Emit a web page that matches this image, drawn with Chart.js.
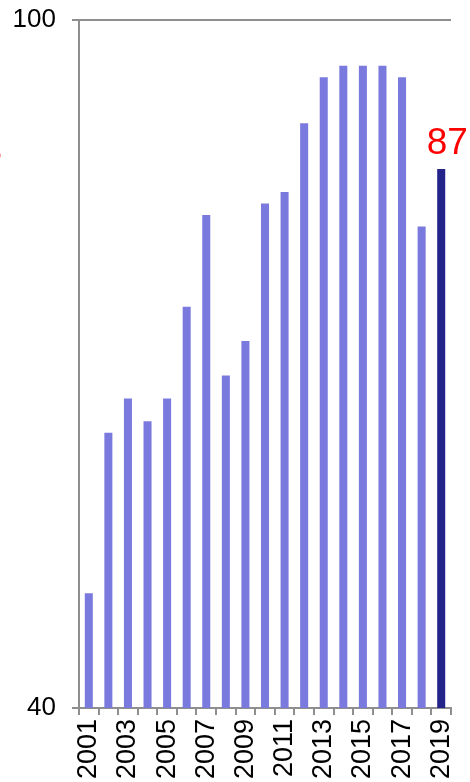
<!DOCTYPE html>
<html>
<head>
<meta charset="utf-8">
<script src="https://cdn.jsdelivr.net/npm/chart.js@4/dist/chart.umd.min.js"></script>
<style>
  html, body { margin: 0; padding: 0; background: #ffffff; }
  #wrap { position: relative; width: 470px; height: 782px; }
</style>
</head>
<body>
<div id="wrap"><canvas id="chart" width="470" height="782"></canvas></div>
<script>
// Yearly index values, 2001-2019
const years = ['2001','2002','2003','2004','2005','2006','2007','2008','2009','2010',
               '2011','2012','2013','2014','2015','2016','2017','2018','2019'];
const values = [50, 64, 67, 65, 67, 75, 83, 69, 72, 84,
                85, 91, 95, 96, 96, 96, 95, 82, 87];
const yTicks = [40, 100];

const FONT = '"Liberation Sans", Arial, sans-serif';
const AXIS_GRAY = '#8e8e8e';
const BAR_LIGHT = '#7a7ade';
const BAR_LATEST = '#23238a';

const barColors = values.map((v, i) => i === values.length - 1 ? BAR_LATEST : BAR_LIGHT);

// Writes the latest year's value above its bar, plus the clipped red note at the left edge
const latestLabel = {
  id: 'latestLabel',
  afterDatasetsDraw(chart) {
    const ctx = chart.ctx;
    const meta = chart.getDatasetMeta(0);
    const last = meta.data[meta.data.length - 1];
    const v = values[values.length - 1];
    ctx.save();
    ctx.fillStyle = '#ff0000';
    ctx.font = '37px ' + FONT;
    ctx.textAlign = 'center';
    ctx.textBaseline = 'alphabetic';
    ctx.fillText(String(v), last.x + 6, last.y - 15);
    ctx.textAlign = 'right';
    ctx.fillText('8', 2, 163);
    ctx.restore();
  }
};

new Chart(document.getElementById('chart'), {
  type: 'bar',
  data: {
    labels: years,
    datasets: [{
      data: values,
      backgroundColor: barColors,
      borderWidth: 0,
      barPercentage: 0.41,
      categoryPercentage: 1.0
    }]
  },
  options: {
    responsive: false,
    animation: false,
    devicePixelRatio: 1,
    layout: { padding: { top: 20, right: 19, left: 0, bottom: 0 } },
    plugins: {
      legend: { display: false },
      tooltip: { enabled: false }
    },
    scales: {
      x: {
        grid: {
          offset: true,
          drawOnChartArea: false,
          drawTicks: true,
          tickLength: 7,
          color: AXIS_GRAY,
          lineWidth: 2
        },
        border: { display: true, color: AXIS_GRAY, width: 2 },
        ticks: {
          autoSkip: false,
          minRotation: 90,
          maxRotation: 90,
          padding: 4,
          color: '#000000',
          font: { family: FONT, size: 27 },
          callback: (val, idx) => idx % 2 === 0 ? years[idx] : ''
        },
        afterFit(scale) {
          scale.height = 74;
          scale.paddingLeft = 0;
          scale.paddingRight = 0;
        }
      },
      y: {
        min: yTicks[0],
        max: yTicks[yTicks.length - 1],
        afterBuildTicks(scale) { scale.ticks = yTicks.map(v => ({ value: v })); },
        grid: {
          drawOnChartArea: true,
          drawTicks: true,
          tickLength: 7,
          color: AXIS_GRAY,
          lineWidth: 2
        },
        border: { display: true, color: AXIS_GRAY, width: 2 },
        ticks: {
          padding: 16,
          color: '#000000',
          font: { family: FONT, size: 26 }
        },
        afterFit(scale) {
          scale.width = 79;
          scale.paddingTop = 0;
          scale.paddingBottom = 0;
        }
      }
    }
  },
  plugins: [latestLabel]
});
</script>
</body>
</html>
